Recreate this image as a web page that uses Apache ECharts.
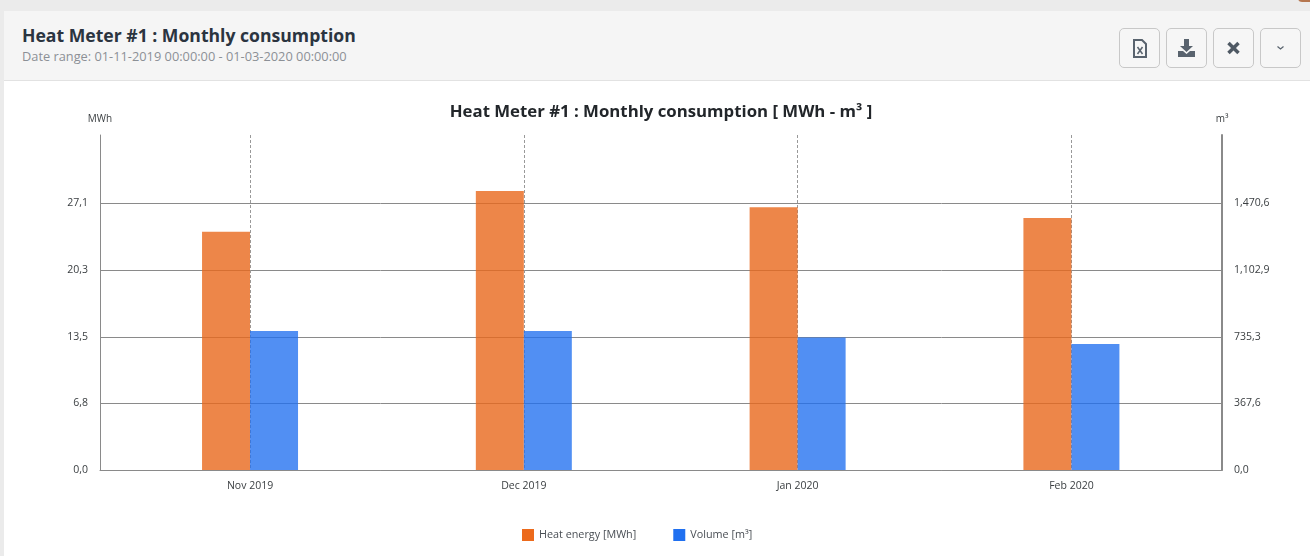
<!DOCTYPE html>
<html>

<head>
    <meta charset="utf-8" />
    <style>
        html, body { margin: 0; padding: 0; width: 1310px; height: 556px; overflow: hidden; background: #ebebeb; font-family: "Open Sans", sans-serif; }
        .card { position: absolute; left: 4px; top: 11px; width: 1306px; height: 545px; background: #fff; border-radius: 3px 0 0 0; }
        .head { position: absolute; left: 0; top: 0; width: 100%; height: 69px; background: #f5f5f5; border-bottom: 1px solid #e2e2e2; }
        .head h1 { position: absolute; left: 18px; top: 12px; margin: 0; font-size: 17.6px; line-height: 24px; font-weight: 700; color: #2b3440; white-space: nowrap; }
        .head p { position: absolute; left: 18px; top: 36px; margin: 0; font-size: 12.8px; line-height: 18px; color: #8c9096; white-space: nowrap; }
        .btn { position: absolute; top: 17px; width: 39px; height: 38px; border: 1px solid #c8c8c8; border-radius: 5px; background: #f6f6f6; }
        .btn svg { position: absolute; left: 0; top: 0; width: 39px; height: 38px; }
        #chart { position: absolute; left: 0; top: 0; width: 1310px; height: 556px; }
        .corner { position: absolute; left: 1298px; top: -6px; width: 16px; height: 8px; border-radius: 8px; background: #b5764f; }
    </style>
    <script src="https://cdn.jsdelivr.net/npm/echarts@6/dist/echarts.min.js"></script>
</head>

<body>
    <div class="corner"></div>
    <div class="card">
        <div class="head">
            <h1>Heat Meter #1 : Monthly consumption</h1>
            <p>Date range: 01-11-2019 00:00:00 - 01-03-2020 00:00:00</p>
            <div class="btn" style="left:1115px">
                <svg viewBox="0 0 39 38"><path d="M14 11h8l4 4v13H14z" fill="none" stroke="#59636e" stroke-width="2"/><path d="M17.500 18l5 7M22.500 18l-5 7" stroke="#59636e" stroke-width="1.500"/></svg>
            </div>
            <div class="btn" style="left:1162px">
                <svg viewBox="0 0 39 38"><path d="M17 10h5v7h4l-6.500 6-6.500-6h4z" fill="#59636e"/><path d="M11 22h5l3.500 3 3.500-3h5v6H11z" fill="#59636e"/></svg>
            </div>
            <div class="btn" style="left:1209px">
                <svg viewBox="0 0 39 38"><path d="M14.500 14l10 10M24.500 14l-10 10" stroke="#4e5863" stroke-width="3.500"/></svg>
            </div>
            <div class="btn" style="left:1256px">
                <svg viewBox="0 0 39 38"><path d="M16.500 17.500l3 2.500 3-2.500" fill="none" stroke="#59636e" stroke-width="1.200"/></svg>
            </div>
        </div>
    </div>
    <div id="chart"></div>
    <script type="text/javascript">
        var categories = ['Nov 2019', 'Dec 2019', 'Jan 2020', 'Feb 2020'];
        var heatEnergy = [24.2, 28.35, 26.7, 25.6];
        var volume = [767, 767, 731, 695];
        var leftTicks = [0, 6.8, 13.5, 20.3, 27.1];
        var rightTicks = [0, 367.6, 735.3, 1102.9, 1470.6];
        var positions = [0, 1, 2, 3];

        /* comma decimal, comma thousands too, as on the original */
        function fmt(v) {
            var s = v.toFixed(1).split('.');
            return s[0].replace(/\B(?=(\d{3})+$)/g, ',') + ',' + s[1];
        }
        function pairs(values) {
            return values.map(function (v, i) { return [positions[i], v]; });
        }

        var textColor = '#3c4043';
        var lineColor = '#8a8a8a';
        var chart = echarts.init(document.getElementById('chart'));
        var option = {
            backgroundColor: 'transparent',
            animation: false,
            textStyle: { fontFamily: 'Open Sans' },
            title: {
                text: 'Heat Meter #1 : Monthly consumption [ MWh - m³ ]',
                left: 656,
                top: 99,
                textAlign: 'center',
                textStyle: { fontSize: 16.8, fontWeight: 700, color: '#22262a', fontFamily: 'Open Sans' }
            },
            legend: {
                left: 517,
                top: 524,
                itemWidth: 12,
                itemHeight: 12,
                itemGap: 37,
                textStyle: { fontSize: 10.8, color: '#4a4f55' },
                data: [
                    { name: 'Heat energy [MWh]', icon: 'rect', itemStyle: { color: '#ec6a1c', opacity: 1 } },
                    { name: 'Volume [m³]', icon: 'rect', itemStyle: { color: '#2070f0', opacity: 1 } }
                ]
            },
            grid: { left: 100, right: 88, top: 135, bottom: 86 },
            xAxis: {
                type: 'value',
                min: -0.548,
                max: 3.55,
                axisLine: { onZero: false, lineStyle: { color: lineColor, width: 1 } },
                axisTick: { show: false, customValues: positions },
                axisLabel: {
                    customValues: positions,
                    margin: 11,
                    fontSize: 10.5,
                    color: textColor,
                    formatter: function (v) { return categories[v]; }
                },
                splitLine: { show: true, lineStyle: { color: '#999999', type: [3, 2], width: 1 } }
            },
            yAxis: [
                {
                    type: 'value',
                    min: 0,
                    max: 34.04,
                    name: 'MWh',
                    nameLocation: 'end',
                    nameGap: 11,
                    nameTextStyle: { fontSize: 10, color: textColor },
                    axisLine: { show: true, onZero: false, lineStyle: { color: lineColor, width: 1 } },
                    axisTick: { show: false, customValues: leftTicks },
                    axisLabel: { customValues: leftTicks, margin: 12, fontSize: 10.5, color: textColor, formatter: fmt },
                    splitLine: { show: true, lineStyle: { color: lineColor, width: 1 } }
                },
                {
                    type: 'value',
                    min: 0,
                    max: 1848.7,
                    name: 'm³',
                    nameLocation: 'end',
                    nameGap: 11,
                    nameTextStyle: { fontSize: 10, color: textColor },
                    axisLine: { show: true, onZero: false, lineStyle: { color: lineColor, width: 2 } },
                    axisTick: { show: false, customValues: rightTicks },
                    axisLabel: { customValues: rightTicks, margin: 12, fontSize: 10.5, color: textColor, formatter: fmt },
                    splitLine: { show: false }
                }
            ],
            series: [
                {
                    name: 'Heat energy [MWh]',
                    type: 'bar',
                    yAxisIndex: 0,
                    barWidth: 48,
                    barGap: 0,
                    itemStyle: { color: '#e9681c', opacity: 0.8 },
                    data: pairs(heatEnergy)
                },
                {
                    name: 'Volume [m³]',
                    type: 'bar',
                    yAxisIndex: 1,
                    barWidth: 48,
                    barGap: 0,
                    itemStyle: { color: '#2070f0', opacity: 0.78 },
                    data: pairs(volume)
                }
            ]
        };
        chart.setOption(option);
    </script>
</body>

</html>
